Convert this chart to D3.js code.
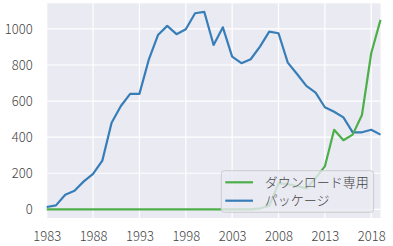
<!DOCTYPE html>
<html>
<head>
<meta charset="utf-8">
<script src="https://cdn.jsdelivr.net/npm/d3@7"></script>
<style>
  body { margin: 0; background: #fff; }
  text { font-family: "Noto Sans CJK JP", "Noto Sans", sans-serif; font-weight: 300; }
</style>
</head>
<body>
<div id="chart"></div>
<script>
const years = d3.range(1983, 2020);
const packageSales = [13, 22, 81, 103, 155, 197, 270, 480, 573, 640,
  640, 828, 966, 1017, 971, 998, 1087, 1094, 911, 1009,
  846, 810, 832, 902, 985, 976, 813, 750, 684, 647,
  566, 541, 510, 427, 427, 441, 414];
const downloadSales = [0, 0, 0, 0, 0, 0, 0, 0, 0, 0,
  0, 0, 0, 0, 0, 0, 0, 0, 0, 0,
  0, 0, 0, 5, 20, 144, 140, 129, 116, 174,
  238, 441, 383, 414, 523, 865, 1050];
const xTicks = [1983, 1988, 1993, 1998, 2003, 2008, 2013, 2018];
const yTicks = [0, 200, 400, 600, 800, 1000];
const seriesNames = ["ダウンロード専用", "パッケージ"];

const margin = { top: 3.3, right: 12.5, bottom: 28, left: 46.7 };
const width = 393 - margin.left - margin.right;
const height = 246 - margin.top - margin.bottom;

const svg = d3.select("#chart")
  .append("svg")
  .attr("width", 393)
  .attr("height", 246);

const g = svg.append("g")
  .attr("transform", `translate(${margin.left},${margin.top})`);

const x = d3.scaleLinear().domain([1983, 2019]).range([0, width]);
const y = d3.scaleLinear().domain([-48, 1142]).range([height, 0]);

g.append("rect")
  .attr("width", width)
  .attr("height", height)
  .style("fill", "#eaeaf2");

// grid
g.selectAll(".vgrid")
  .data(xTicks)
  .enter()
  .append("line")
  .attr("x1", d => x(d)).attr("x2", d => x(d))
  .attr("y1", 0).attr("y2", height)
  .style("stroke", "#fff").style("stroke-width", 1.2);

g.selectAll(".hgrid")
  .data(yTicks)
  .enter()
  .append("line")
  .attr("x1", 0).attr("x2", width)
  .attr("y1", d => y(d)).attr("y2", d => y(d))
  .style("stroke", "#fff").style("stroke-width", 1.2);

// axes (labels only)
const xAxis = g.append("g")
  .attr("transform", `translate(0,${height})`)
  .call(d3.axisBottom(x).tickValues(xTicks).tickFormat(d3.format("d")).tickSize(0).tickPadding(14));
const yAxis = g.append("g")
  .call(d3.axisLeft(y).tickValues(yTicks).tickFormat(d3.format("d")).tickSize(0).tickPadding(14));

[xAxis, yAxis].forEach(a => {
  a.select(".domain").remove();
  a.selectAll("text")
    .style("font-family", "'Noto Sans CJK JP', sans-serif")
    .style("font-weight", 300)
    .style("font-size", "13px")
    .style("fill", "#444");
});

const line = d3.line()
  .x((d, i) => x(years[i]))
  .y(d => y(d));

const colors = ["#4daf4a", "#377eb8"];

g.append("path")
  .datum(packageSales)
  .attr("d", line)
  .style("fill", "none")
  .style("stroke", colors[1])
  .style("stroke-width", 2.2)
  .style("stroke-linejoin", "round");

g.append("path")
  .datum(downloadSales)
  .attr("d", line)
  .style("fill", "none")
  .style("stroke", colors[0])
  .style("stroke-width", 2.2)
  .style("stroke-linejoin", "round");

// legend
const legend = svg.append("g").attr("transform", "translate(221.3,170.7)");
legend.append("rect")
  .attr("width", 152.4)
  .attr("height", 41.6)
  .attr("rx", 3)
  .style("fill", "#eaeaf2")
  .style("fill-opacity", 0.8)
  .style("stroke", "#cccccc")
  .style("stroke-width", 1);

seriesNames.forEach((name, i) => {
  const row = legend.append("g").attr("transform", `translate(0,${11.6 + i * 18.4})`);
  row.append("line")
    .attr("x1", 4).attr("x2", 31.7)
    .style("stroke", colors[i])
    .style("stroke-width", 2.2);
  row.append("text")
    .attr("x", 43.4)
    .attr("dy", "0.35em")
    .style("font-size", "13px")
    .style("fill", "#444")
    .text(name);
});
</script>
</body>
</html>
